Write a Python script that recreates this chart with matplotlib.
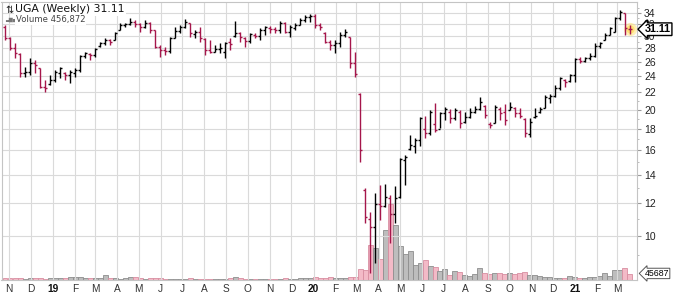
import matplotlib
matplotlib.use("Agg")
import matplotlib.pyplot as plt
import matplotlib.dates as mdates
import matplotlib.transforms as mtrans
import matplotlib.ticker as mticker
import numpy as np
import pandas as pd

# ---------------- data ----------------
first_week = "2018-10-26"          # weekly bars (Fridays)
prev_close = 31.9                  # close of the week before the first bar

opens = [31.5, 29.6, 28.0, 27.2, 24.4, 24.6, 25.9, 25.1, 22.7, 23.0,
         23.5, 24.5, 24.4, 24.2, 24.5, 24.9, 26.9, 27.2, 27.0, 28.3,
         28.8, 29.3, 29.4, 31.0, 31.8, 32.0, 32.3, 32.0, 31.5, 32.2,
         30.9, 28.2, 27.8, 27.6, 29.7, 30.8, 31.5, 32.1, 30.3, 30.6,
         29.5, 27.8, 27.5, 27.9, 27.5, 29.0, 30.0, 30.4, 29.6, 29.1,
         30.2, 29.9, 30.9, 31.4, 31.2, 31.0, 32.1, 30.6, 31.4, 31.9,
         32.7, 33.2, 33.4, 31.8, 30.5, 29.0, 28.5, 28.8, 30.1, 29.8,
         25.8, 21.8, 12.9, 11.0, 10.5, 11.9, 11.8, 12.3, 11.3, 12.4,
         15.2, 16.1, 16.4, 16.9, 18.0, 17.6, 18.5, 18.0, 19.6, 19.8,
         19.1, 19.7, 18.7, 19.2, 19.8, 20.1, 20.4, 18.5, 18.6, 20.1,
         19.7, 20.0, 20.2, 19.6, 19.0, 17.5, 19.2, 19.7, 20.2, 21.3,
         21.6, 22.5, 23.5, 23.4, 24.2, 26.4, 26.1, 26.5, 26.9, 28.4,
         29.4, 30.2, 30.7, 33.1, 34.0, 31.2]
highs = [31.83, 29.80, 28.84, 27.30, 25.28, 26.56, 26.27, 25.14, 23.54, 24.19,
         24.87, 25.28, 24.59, 24.87, 25.14, 27.00, 27.45, 27.30, 28.06, 29.00,
         29.64, 29.48, 30.63, 32.18, 32.18, 33.08, 32.72, 32.18, 32.72, 32.36,
         30.97, 28.53, 28.21, 29.80, 31.48, 31.83, 32.90, 32.18, 30.97, 31.48,
         29.64, 29.32, 28.53, 28.84, 29.00, 29.64, 32.54, 30.63, 29.80, 30.46,
         30.46, 31.30, 31.65, 31.65, 31.48, 32.54, 32.36, 31.83, 32.18, 33.08,
         33.63, 33.80, 33.80, 32.18, 30.63, 29.32, 29.32, 30.63, 31.14, 29.80,
         27.45, 21.92, 13.01, 11.41, 12.66, 13.23, 13.30, 12.52, 13.16, 15.34,
         15.60, 17.41, 17.12, 19.21, 19.32, 19.97, 20.75, 19.75, 20.30, 20.07,
         20.18, 19.97, 19.75, 20.18, 20.41, 21.44, 20.52, 18.69, 20.52, 20.30,
         20.63, 20.86, 20.30, 20.18, 19.11, 19.11, 20.18, 20.30, 21.68, 21.80,
         22.90, 23.93, 23.67, 24.33, 26.56, 26.71, 26.71, 27.30, 28.84, 29.00,
         30.46, 31.48, 33.26, 34.57, 34.05, 31.83]
lows = [29.32, 27.75, 26.56, 23.93, 23.93, 24.19, 24.46, 22.53, 22.04, 22.90,
        23.28, 23.80, 23.54, 23.16, 23.93, 24.59, 26.56, 26.27, 26.70, 28.21,
        28.53, 28.53, 29.32, 30.97, 31.48, 31.83, 31.48, 30.63, 31.30, 30.46,
        28.06, 26.70, 27.00, 27.30, 29.64, 30.46, 31.30, 29.80, 29.64, 29.00,
        27.00, 27.30, 27.45, 27.30, 26.56, 27.75, 29.80, 29.00, 28.21, 28.84,
        29.64, 29.32, 30.13, 30.46, 30.46, 30.46, 30.46, 29.80, 30.97, 31.83,
        32.36, 32.36, 31.30, 30.97, 28.84, 27.75, 27.30, 28.21, 29.80, 25.14,
        23.93, 15.01, 10.74, 8.16, 8.62, 10.92, 11.72, 9.62, 10.74, 12.32,
        13.23, 16.03, 15.77, 16.39, 17.12, 17.41, 17.70, 18.09, 18.90, 18.59,
        18.90, 18.09, 18.59, 19.11, 19.64, 19.97, 19.11, 18.09, 18.59, 18.90,
        18.39, 19.97, 19.21, 19.11, 17.22, 17.22, 19.11, 19.64, 20.18, 20.75,
        21.44, 22.29, 22.65, 23.28, 23.28, 25.84, 25.98, 26.27, 26.71, 28.06,
        29.32, 30.13, 30.63, 32.72, 30.13, 30.30]
closes = [29.64, 28.06, 27.30, 24.46, 24.59, 25.84, 25.50, 22.65, 22.50, 23.54,
          24.59, 25.14, 24.19, 24.59, 24.87, 26.85, 27.30, 27.00, 27.90, 28.84,
          29.32, 29.00, 30.46, 31.83, 32.00, 32.36, 32.00, 31.48, 32.18, 30.97,
          28.21, 27.75, 27.60, 29.64, 30.80, 31.48, 32.36, 30.46, 30.60, 29.64,
          27.75, 27.45, 27.90, 28.00, 28.84, 28.70, 30.46, 29.80, 29.16, 30.30,
          29.97, 30.97, 31.48, 31.14, 31.05, 32.18, 30.63, 31.48, 31.83, 32.72,
          33.26, 33.45, 31.83, 31.48, 29.00, 28.53, 28.84, 30.13, 30.63, 25.84,
          24.33, 16.03, 11.10, 10.50, 11.92, 11.79, 12.39, 11.28, 12.32, 15.26,
          15.43, 16.48, 16.94, 19.11, 17.60, 19.75, 17.89, 19.64, 20.07, 19.11,
          19.97, 18.59, 19.21, 19.75, 20.07, 20.86, 19.43, 18.39, 20.30, 19.64,
          18.90, 20.30, 19.64, 19.32, 17.60, 18.69, 19.32, 20.07, 21.44, 21.56,
          22.53, 23.80, 23.28, 24.19, 26.41, 26.13, 26.56, 26.85, 28.37, 28.84,
          30.13, 31.31, 33.08, 34.19, 31.30, 31.11]
volumes = [160000, 160000, 170000, 150000, 120000, 130000, 160000, 170000, 120000, 130000,
           160000, 170000, 150000, 240000, 230000, 250000, 170000, 160000, 180000, 170000,
           400000, 170000, 160000, 120000, 150000, 240000, 250000, 160000, 120000, 130000,
           160000, 150000, 120000, 110000, 120000, 110000, 120000, 130000, 110000, 120000,
           120000, 110000, 120000, 110000, 120000, 160000, 210000, 150000, 120000, 110000,
           110000, 120000, 110000, 120000, 110000, 120000, 130000, 110000, 120000, 130000,
           160000, 200000, 210000, 160000, 170000, 240000, 200000, 160000, 170000, 240000,
           250000, 880000, 800000, 2800000, 2560000, 1680000, 4000000, 6080000, 4400000, 2720000,
           2080000, 2320000, 1200000, 1360000, 1600000, 1120000, 1040000, 720000, 880000, 400000,
           720000, 640000, 400000, 320000, 480000, 960000, 560000, 480000, 560000, 560000,
           480000, 560000, 480000, 560000, 640000, 400000, 400000, 320000, 240000, 240000,
           160000, 160000, 170000, 320000, 240000, 160000, 170000, 240000, 250000, 320000,
           560000, 330000, 800000, 800000, 960000, 456872]

price_ticks = [10, 12, 14, 16, 18, 20, 22, 24, 26, 28, 30, 32, 34]
title_text = "UGA (Weekly) 31.11"
volume_text = "Volume 456,872"
last_price_label = "31.11"
last_volume_label = "45687"

# ---------------- figure ----------------
dates = pd.date_range(first_week, periods=len(closes), freq="7D")
x = mdates.date2num(dates)
closes_arr = np.array(closes)
prev = np.r_[prev_close, closes_arr[:-1]]
up = closes_arr >= prev

RED = "#a5164b"
bar_cols = np.where(up, "#000000", RED)
vol_fill = np.where(up, "#bdbdbd", "#f3bac7")
vol_edge = np.where(up, "#8e8e8e", "#d88ea1")

fig = plt.figure(figsize=(6.77, 2.94), dpi=100)
rect = [1.5 / 677, 1 - 280 / 294, 635.5 / 677, 278 / 294]
ax = fig.add_axes(rect)
axv = ax.twinx()
ax.set_zorder(axv.get_zorder() + 1)
ax.patch.set_visible(False)

# volume
axv.bar(x, volumes, width=7, color=vol_fill, edgecolor=vol_edge, linewidth=0.6, zorder=2)
axv.set_ylim(0, 278 * 80000)
axv.set_yticks([])
for s in axv.spines.values():
    s.set_visible(False)

# price OHLC bars
ax.set_yscale("log")
lw = 1.0
ax.vlines(x, lows, highs, colors=bar_cols, lw=lw, zorder=4)
ax.hlines(opens, x - 2.8, x, colors=bar_cols, lw=lw, zorder=4)
ax.hlines(closes, x, x + 2.8, colors=bar_cols, lw=lw, zorder=4)

# highlight on last bar
ax.scatter([x[-1]], [closes[-1]], s=90, color="#ffe27a", alpha=0.55, lw=0, zorder=3)
ax.scatter([x[-1]], [closes[-1]], s=35, color="#ffd84a", alpha=0.6, lw=0, zorder=3)

ax.set_ylim(7.853, 36.12)
ax.set_xlim(x[0] - 4.9, x[-1] + 9.8)

# y axis on the right
ax.yaxis.tick_right()
ax.yaxis.set_major_locator(mticker.FixedLocator(price_ticks))
ax.yaxis.set_major_formatter(mticker.FixedFormatter([str(t) for t in price_ticks]))
ax.yaxis.set_minor_locator(mticker.FixedLocator(np.arange(9, 36, 1)))
ax.yaxis.set_minor_formatter(mticker.NullFormatter())
ax.tick_params(axis="y", which="major", length=3, width=0.8, color="#9a9a9a",
               labelsize=7.5, pad=2, labelcolor="#222222")
ax.tick_params(axis="y", which="minor", length=1.5, width=0.6, color="#b0b0b0")
for lab in ax.get_yticklabels():
    lab.set_fontfamily("Liberation Sans")

# x axis month ticks
month_starts = pd.date_range("2018-11-01", "2021-03-01", freq="MS")
month_labels = [f"{d.year % 100:02d}" if d.month == 1 else d.strftime("%b")[0]
                for d in month_starts]
ax.set_xticks(mdates.date2num(month_starts))
ax.set_xticklabels(month_labels)
ax.tick_params(axis="x", length=0, pad=3, labelsize=7.3, labelcolor="#333333")
for lab, d in zip(ax.get_xticklabels(), month_starts):
    lab.set_fontfamily("Liberation Sans")
    if d.month == 1:
        lab.set_fontweight("bold")
        lab.set_color("#111111")

ax.grid(True, which="major", axis="both", color="#dadada", lw=0.8, zorder=0)
for s in ax.spines.values():
    s.set_color("#c4c4c4")
    s.set_linewidth(0.8)

# last price label
blend_p = mtrans.blended_transform_factory(ax.transAxes, ax.transData)
ax.text(1.012, closes[-1], last_price_label, transform=blend_p, ha="left", va="center",
        fontsize=7.8, fontweight="bold", family="Liberation Sans", color="black", zorder=10,
        clip_on=False,
        bbox=dict(boxstyle="larrow,pad=0.12", fc="white", ec="black", lw=1.0))

# last volume label
blend_v = mtrans.blended_transform_factory(axv.transAxes, axv.transData)
axv.text(1.012, volumes[-1] * 1.15, last_volume_label, transform=blend_v, ha="left", va="center",
         fontsize=6.3, family="Liberation Sans", color="black", zorder=10, clip_on=False,
         bbox=dict(boxstyle="larrow,pad=0.08", fc="white", ec="#555555", lw=0.7))

# title texts
fig.text(5 / 677, 1 - 9.5 / 294, "⇅", fontsize=7, ha="left", va="center",
         family="DejaVu Sans", color="#222222")
fig.text(15 / 677, 1 - 9.5 / 294, title_text, fontsize=7.8, ha="left", va="center",
         family="DejaVu Sans", color="#111111",
         bbox=dict(boxstyle="square,pad=0.1", fc="white", ec="none"))
fig.text(5.5 / 677, 1 - 19.5 / 294, "▃▇▅", fontsize=3.6, ha="left", va="center",
         family="DejaVu Sans", color="#777777")
fig.text(16 / 677, 1 - 19.5 / 294, volume_text, fontsize=6.1, ha="left", va="center",
         family="DejaVu Sans", color="#444444",
         bbox=dict(boxstyle="square,pad=0.1", fc="white", ec="none"))

fig.savefig("out.png", dpi=100)
